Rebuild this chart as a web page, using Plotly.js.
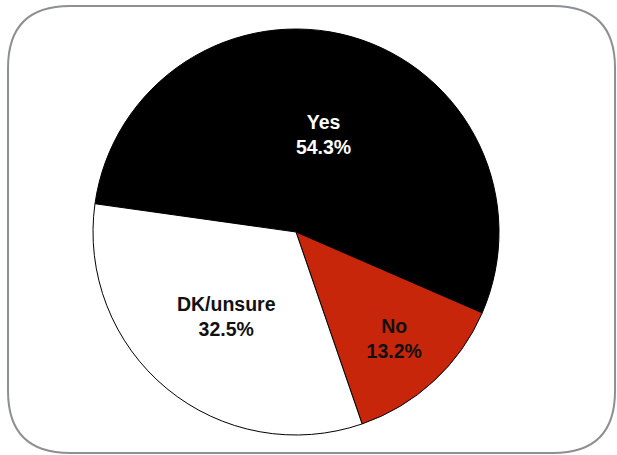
<!DOCTYPE html>
<html><head><meta charset="utf-8">
<script src="https://cdn.plot.ly/plotly-3.0.1.min.js"></script>
<style>html,body{margin:0;padding:0;background:#fff;}</style>
</head><body>
<div id="chart" style="width:617px;height:455px;"></div>
<script>
var categories = ['Yes', 'No', 'DK/unsure'];
var values = [54.3, 13.2, 32.5];
var sliceColors = ['#000000', '#c8260a', '#ffffff'];
var labelColors = ['#ffffff', '#111111', '#111111'];

var W = 617, H = 455;
function px(x){return (x/W).toFixed(4);}
function py(y){return (1 - y/H).toFixed(4);}
var x0=8, x1=615, y0=6, y1=453, r=62;
var path = 'M'+px(x0+r)+','+py(y0)+
  ' L'+px(x1-r)+','+py(y0)+
  ' Q'+px(x1)+','+py(y0)+' '+px(x1)+','+py(y0+r)+
  ' L'+px(x1)+','+py(y1-r)+
  ' Q'+px(x1)+','+py(y1)+' '+px(x1-r)+','+py(y1)+
  ' L'+px(x0+r)+','+py(y1)+
  ' Q'+px(x0)+','+py(y1)+' '+px(x0)+','+py(y1-r)+
  ' L'+px(x0)+','+py(y0+r)+
  ' Q'+px(x0)+','+py(y0)+' '+px(x0+r)+','+py(y0)+' Z';

var trace = {
  type: 'pie',
  labels: categories,
  values: values,
  sort: false,
  direction: 'clockwise',
  rotation: 278,
  marker: {colors: sliceColors, line: {color: '#000000', width: 1}},
  textinfo: 'label+percent',
  texttemplate: '%{label}<br>%{percent:.1%}',
  textposition: 'inside',
  insidetextorientation: 'horizontal',
  textfont: {family: 'Liberation Sans, Arial, sans-serif', size: 19.5, weight: 'bold', color: labelColors},
  hoverinfo: 'none',
  domain: {x: [93/W, 499/W], y: [1-435/H, 1-29/H]}
};

var layout = {
  width: W, height: H,
  margin: {l:0, r:0, t:0, b:0},
  showlegend: false,
  paper_bgcolor: '#ffffff',
  shapes: [{type:'path', xref:'paper', yref:'paper', path: path, line:{color:'#8c8f94', width:2}, layer:'below'}]
};

Plotly.newPlot('chart', [trace], layout, {displayModeBar:false, staticPlot:true});
</script>
</body></html>
